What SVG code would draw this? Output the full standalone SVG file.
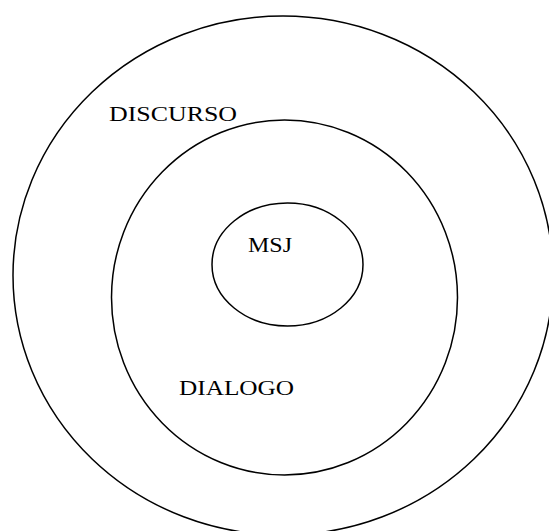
<svg xmlns="http://www.w3.org/2000/svg" width="549" height="531" viewBox="0 0 549 531">
<style>
.ring{fill:none;stroke:#000;stroke-width:1.5}
.lbl{font-family:"Liberation Serif","Times New Roman",serif;font-size:20px;fill:#000}
</style>
<rect width="549" height="531" fill="#fff"/>
<g id="discurso">
<ellipse class="ring" cx="283" cy="275.5" rx="270" ry="259.5"/>
<text class="lbl" x="109" y="121" textLength="128" lengthAdjust="spacingAndGlyphs">DISCURSO</text>
</g>
<g id="dialogo">
<ellipse class="ring" cx="284.5" cy="297.5" rx="173" ry="177.5"/>
<text class="lbl" x="179" y="395" textLength="115" lengthAdjust="spacingAndGlyphs">DIALOGO</text>
</g>
<g id="msj">
<ellipse class="ring" cx="287.5" cy="264.5" rx="75.5" ry="61.5"/>
<text class="lbl" x="248" y="252" textLength="44" lengthAdjust="spacingAndGlyphs">MSJ</text>
</g>
<g id="connectors"/>
</svg>
